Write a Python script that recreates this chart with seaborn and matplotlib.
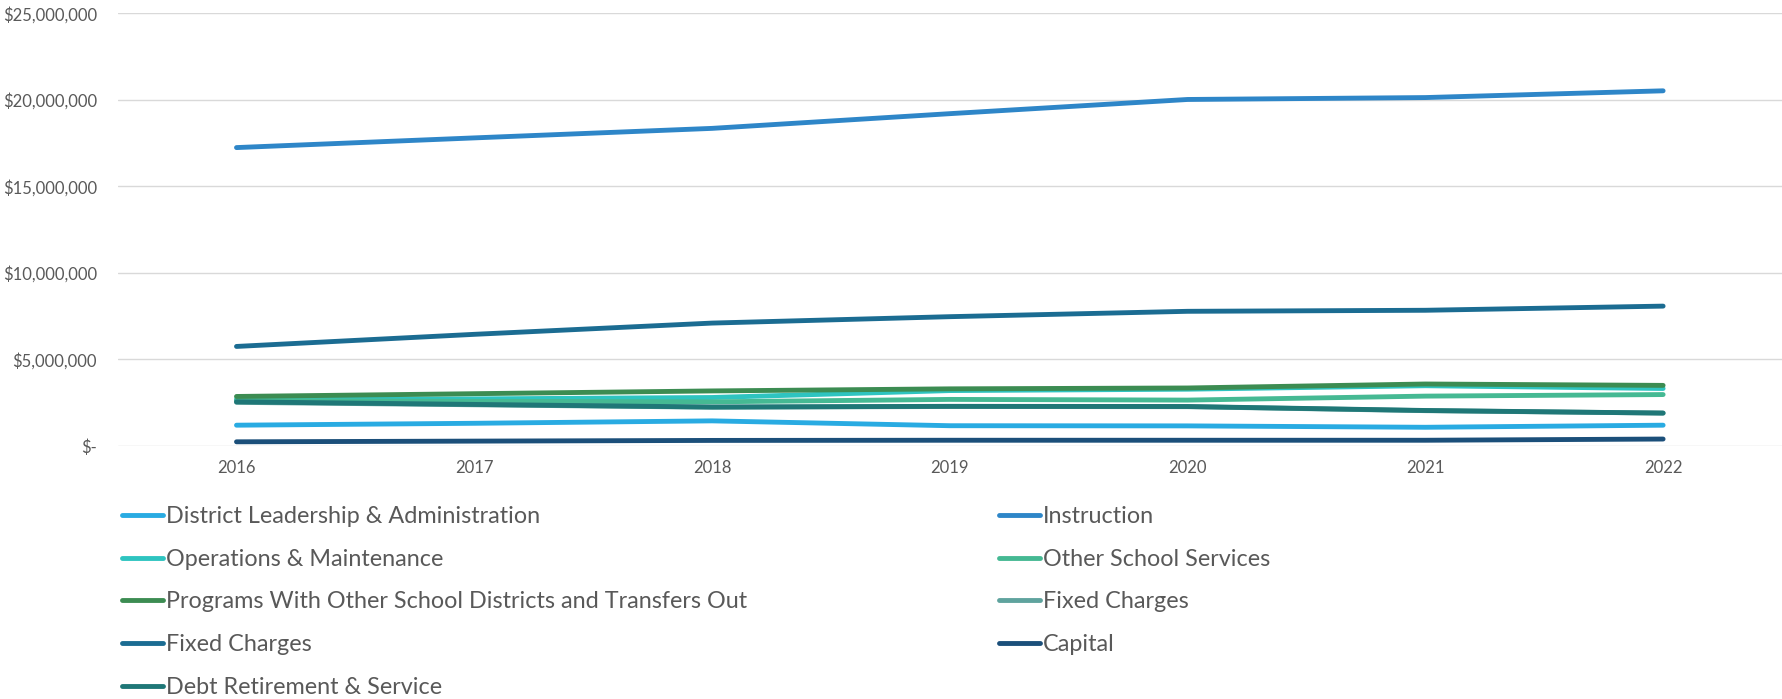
import matplotlib
matplotlib.use("Agg")
import matplotlib.pyplot as plt
from matplotlib.lines import Line2D
from matplotlib.ticker import FuncFormatter
import seaborn as sns
import pandas as pd

years = [2016, 2017, 2018, 2019, 2020, 2021, 2022]

district_leadership = [1.20e6, 1.31e6, 1.45e6, 1.17e6, 1.16e6, 1.08e6, 1.20e6]
instruction = [17.24e6, 17.80e6, 18.35e6, 19.20e6, 20.02e6, 20.13e6, 20.52e6]
operations = [2.70e6, 2.72e6, 2.80e6, 3.20e6, 3.28e6, 3.48e6, 3.32e6]
other_school_services = [2.62e6, 2.58e6, 2.55e6, 2.69e6, 2.65e6, 2.88e6, 2.97e6]
programs_transfers = [2.86e6, 3.02e6, 3.18e6, 3.30e6, 3.35e6, 3.58e6, 3.50e6]
fixed_charges_a = [2.52e6, 2.38e6, 2.24e6, 2.28e6, 2.27e6, 2.04e6, 1.90e6]
fixed_charges_b = [5.75e6, 6.45e6, 7.10e6, 7.47e6, 7.78e6, 7.84e6, 8.08e6]
capital = [0.24e6, 0.28e6, 0.32e6, 0.33e6, 0.33e6, 0.33e6, 0.40e6]
debt_retirement = [2.55e6, 2.40e6, 2.25e6, 2.29e6, 2.28e6, 2.05e6, 1.90e6]

series_labels = [
    "District Leadership & Administration",
    "Instruction",
    "Operations & Maintenance",
    "Other School Services",
    "Programs With Other School Districts and Transfers Out",
    "Fixed Charges",
    "Fixed Charges",
    "Capital",
    "Debt Retirement & Service",
]
series_values = [
    district_leadership, instruction, operations, other_school_services,
    programs_transfers, fixed_charges_a, fixed_charges_b, capital, debt_retirement,
]
series_colors = [
    "#29ABE2", "#2E86C8", "#2EC4C0", "#45B993", "#3C8C52",
    "#5FA39E", "#1B6C92", "#1B4F7A", "#1F7777",
]

sns.set_theme(style="white")
plt.rcParams["font.family"] = ["Lato", "DejaVu Sans"]

fig = plt.figure(figsize=(17.82, 6.99), dpi=100)
ax = fig.add_axes([0.066, 0.362, 0.934, 0.619])

for lab, vals, col in zip(series_labels, series_values, series_colors):
    df = pd.DataFrame({"year": years, "value": vals})
    sns.lineplot(data=df, x="year", y="value", ax=ax, color=col, linewidth=3.5,
                 solid_capstyle="round", legend=False)

ax.set_xlim(2015.5, 2022.5)
ax.set_ylim(0, 25e6)
ax.set_xticks(years)
ax.set_xticklabels([str(y) for y in years])
ax.set_yticks([0, 5e6, 10e6, 15e6, 20e6, 25e6])


def money(v, pos):
    if v == 0:
        return "$-"
    return "${:,.0f}".format(v)


ax.yaxis.set_major_formatter(FuncFormatter(money))
ax.grid(axis="y", color="#D9D9D9", linewidth=1.0)
ax.set_axisbelow(True)
for s in ax.spines.values():
    s.set_visible(False)
ax.tick_params(axis="both", length=0, labelsize=12, labelcolor="#595959")
ax.tick_params(axis="x", pad=10)
ax.tick_params(axis="y", pad=15)
ax.set_xlabel("")
ax.set_ylabel("")

handles = [Line2D([0], [0], color=c, linewidth=3.5, solid_capstyle="round")
           for c in series_colors]
left_idx = [0, 2, 4, 6, 8]
right_idx = [1, 3, 5, 7]
leg_kw = dict(frameon=False, fontsize=16.8, labelcolor="#595959", handlelength=1.75,
              handletextpad=0.15, labelspacing=0.93, borderpad=0, borderaxespad=0)
top = 1 - 506 / 699
fig.legend([handles[i] for i in left_idx], [series_labels[i] for i in left_idx],
           loc="upper left", bbox_to_anchor=(122 / 1782, top), **leg_kw)
fig.legend([handles[i] for i in right_idx], [series_labels[i] for i in right_idx],
           loc="upper left", bbox_to_anchor=(999 / 1782, top), **leg_kw)

fig.savefig("out.png", dpi=100)
